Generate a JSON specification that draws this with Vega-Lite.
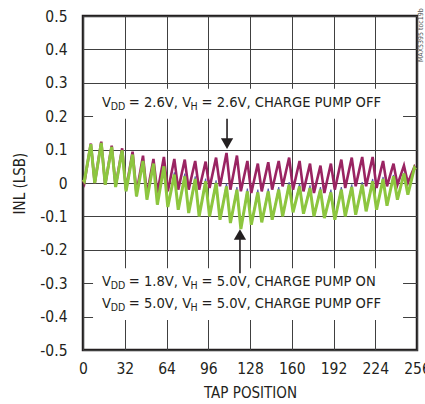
{
  "$schema": "https://vega.github.io/schema/vega-lite/v6.json",
  "autosize": {"type": "none"},
  "width": 334,
  "height": 334,
  "padding": {"left": 83, "top": 16, "right": 8, "bottom": 54},
  "background": "white",
  "config": {
    "font": "DejaVu Sans Condensed, Liberation Sans, sans-serif",
    "view": {"stroke": "#231f20", "strokeWidth": 2.5},
    "axis": {
      "labelFont": "DejaVu Sans Condensed, Liberation Sans, sans-serif",
      "titleFont": "DejaVu Sans Condensed, Liberation Sans, sans-serif",
      "labelFontSize": 15.5,
      "titleFontSize": 15,
      "titleFontWeight": "normal",
      "labelColor": "#231f20",
      "titleColor": "#231f20",
      "ticks": false,
      "domain": false,
      "grid": true,
      "gridColor": "#404040",
      "gridWidth": 1,
      "labelFlush": false,
      "labelOverlap": false,
      "tickCount": 30
    }
  },
  "data": {"values": [
    {"t": 0, "m": 0.01, "g": 0.01, "b": 0.01},
    {"t": 1, "m": 0.0, "g": 0.005, "b": 0.005},
    {"t": 4, "m": 0.071, "g": 0.072, "b": 0.072},
    {"t": 6, "m": 0.118, "g": 0.116, "b": 0.116},
    {"t": 9, "m": 0.0, "g": 0.0, "b": 0.0},
    {"t": 12, "m": 0.074, "g": 0.072, "b": 0.072},
    {"t": 14, "m": 0.124, "g": 0.12, "b": 0.12},
    {"t": 17, "m": -0.005, "g": -0.005, "b": -0.005},
    {"t": 20, "m": 0.065, "g": 0.063, "b": 0.063},
    {"t": 22, "m": 0.112, "g": 0.108, "b": 0.108},
    {"t": 25, "m": -0.01, "g": -0.012, "b": -0.012},
    {"t": 28, "m": 0.058, "g": 0.054, "b": 0.054},
    {"t": 30, "m": 0.104, "g": 0.098, "b": 0.098},
    {"t": 33, "m": -0.02, "g": -0.025, "b": -0.025},
    {"t": 36, "m": 0.048, "g": 0.041, "b": 0.042},
    {"t": 38, "m": 0.094, "g": 0.085, "b": 0.087},
    {"t": 41, "m": -0.03, "g": -0.04, "b": -0.04},
    {"t": 44, "m": 0.037, "g": 0.024, "b": 0.026},
    {"t": 46, "m": 0.082, "g": 0.066, "b": 0.07},
    {"t": 49, "m": -0.035, "g": -0.05, "b": -0.05},
    {"t": 52, "m": 0.029, "g": 0.015, "b": 0.018},
    {"t": 54, "m": 0.072, "g": 0.058, "b": 0.062},
    {"t": 57, "m": -0.03, "g": -0.065, "b": -0.065},
    {"t": 60, "m": 0.035, "g": 0.004, "b": 0.008},
    {"t": 62, "m": 0.078, "g": 0.05, "b": 0.056},
    {"t": 65, "m": -0.025, "g": -0.072, "b": -0.07},
    {"t": 68, "m": 0.033, "g": -0.014, "b": -0.009},
    {"t": 70, "m": 0.072, "g": 0.025, "b": 0.032},
    {"t": 73, "m": -0.02, "g": -0.08, "b": -0.078},
    {"t": 76, "m": 0.034, "g": -0.02, "b": -0.015},
    {"t": 78, "m": 0.07, "g": 0.02, "b": 0.028},
    {"t": 81, "m": -0.02, "g": -0.09, "b": -0.088},
    {"t": 84, "m": 0.032, "g": -0.029, "b": -0.024},
    {"t": 86, "m": 0.066, "g": 0.012, "b": 0.02},
    {"t": 89, "m": -0.02, "g": -0.1, "b": -0.098},
    {"t": 92, "m": 0.03, "g": -0.037, "b": -0.032},
    {"t": 94, "m": 0.064, "g": 0.005, "b": 0.013},
    {"t": 97, "m": -0.015, "g": -0.1, "b": -0.098},
    {"t": 100, "m": 0.04, "g": -0.04, "b": -0.035},
    {"t": 102, "m": 0.076, "g": 0.0, "b": 0.008},
    {"t": 105, "m": -0.01, "g": -0.11, "b": -0.108},
    {"t": 108, "m": 0.05, "g": -0.05, "b": -0.045},
    {"t": 110, "m": 0.09, "g": -0.01, "b": -0.002},
    {"t": 113, "m": -0.02, "g": -0.12, "b": -0.118},
    {"t": 116, "m": 0.041, "g": -0.06, "b": -0.055},
    {"t": 118, "m": 0.082, "g": -0.02, "b": -0.012},
    {"t": 121, "m": -0.025, "g": -0.138, "b": -0.135},
    {"t": 124, "m": 0.03, "g": -0.07, "b": -0.065},
    {"t": 126, "m": 0.066, "g": -0.025, "b": -0.017},
    {"t": 129, "m": -0.03, "g": -0.125, "b": -0.122},
    {"t": 132, "m": 0.023, "g": -0.067, "b": -0.062},
    {"t": 134, "m": 0.058, "g": -0.028, "b": -0.02},
    {"t": 137, "m": -0.025, "g": -0.118, "b": -0.115},
    {"t": 140, "m": 0.027, "g": -0.062, "b": -0.057},
    {"t": 142, "m": 0.062, "g": -0.025, "b": -0.017},
    {"t": 145, "m": -0.02, "g": -0.11, "b": -0.107},
    {"t": 148, "m": 0.032, "g": -0.056, "b": -0.051},
    {"t": 150, "m": 0.066, "g": -0.02, "b": -0.012},
    {"t": 153, "m": -0.01, "g": -0.1, "b": -0.097},
    {"t": 156, "m": 0.042, "g": -0.043, "b": -0.038},
    {"t": 158, "m": 0.076, "g": -0.005, "b": 0.003},
    {"t": 161, "m": -0.02, "g": -0.088, "b": -0.085},
    {"t": 164, "m": 0.032, "g": -0.041, "b": -0.036},
    {"t": 166, "m": 0.066, "g": -0.01, "b": -0.002},
    {"t": 169, "m": -0.025, "g": -0.092, "b": -0.089},
    {"t": 172, "m": 0.025, "g": -0.046, "b": -0.041},
    {"t": 174, "m": 0.058, "g": -0.015, "b": -0.007},
    {"t": 177, "m": -0.03, "g": -0.1, "b": -0.097},
    {"t": 180, "m": 0.019, "g": -0.052, "b": -0.047},
    {"t": 182, "m": 0.052, "g": -0.02, "b": -0.012},
    {"t": 185, "m": -0.03, "g": -0.105, "b": -0.102},
    {"t": 188, "m": 0.023, "g": -0.059, "b": -0.054},
    {"t": 190, "m": 0.058, "g": -0.028, "b": -0.02},
    {"t": 193, "m": -0.02, "g": -0.11, "b": -0.107},
    {"t": 196, "m": 0.034, "g": -0.056, "b": -0.051},
    {"t": 198, "m": 0.07, "g": -0.02, "b": -0.012},
    {"t": 201, "m": -0.015, "g": -0.1, "b": -0.097},
    {"t": 204, "m": 0.04, "g": -0.047, "b": -0.042},
    {"t": 206, "m": 0.076, "g": -0.012, "b": -0.004},
    {"t": 209, "m": -0.01, "g": -0.095, "b": -0.092},
    {"t": 212, "m": 0.043, "g": -0.041, "b": -0.036},
    {"t": 214, "m": 0.078, "g": -0.005, "b": 0.003},
    {"t": 217, "m": -0.01, "g": -0.085, "b": -0.082},
    {"t": 220, "m": 0.043, "g": -0.031, "b": -0.026},
    {"t": 222, "m": 0.078, "g": 0.005, "b": 0.012},
    {"t": 225, "m": -0.015, "g": -0.08, "b": -0.078},
    {"t": 228, "m": 0.034, "g": -0.025, "b": -0.021},
    {"t": 230, "m": 0.066, "g": 0.012, "b": 0.018},
    {"t": 233, "m": -0.01, "g": -0.068, "b": -0.066},
    {"t": 236, "m": 0.031, "g": -0.015, "b": -0.012},
    {"t": 238, "m": 0.058, "g": 0.02, "b": 0.024},
    {"t": 241, "m": -0.005, "g": -0.05, "b": -0.049},
    {"t": 244, "m": 0.029, "g": -0.003, "b": -0.001},
    {"t": 246, "m": 0.052, "g": 0.028, "b": 0.03},
    {"t": 249, "m": 0.0, "g": -0.035, "b": -0.034},
    {"t": 252, "m": 0.029, "g": 0.013, "b": 0.014},
    {"t": 254, "m": 0.048, "g": 0.045, "b": 0.046},
    {"t": 255, "m": 0.04, "g": 0.04, "b": 0.04}
  ]},
  "layer": [
    {
      "mark": {"type": "line", "color": "#5b5fa8", "strokeWidth": 1.2},
      "encoding": {
        "x": {"field": "t", "type": "quantitative",
          "scale": {"domain": [0, 256], "nice": false, "zero": false},
          "axis": {"values": [0, 32, 64, 96, 128, 160, 192, 224, 256], "tickCount": 30, "title": "TAP POSITION", "labelPadding": 11, "titlePadding": 9}},
        "y": {"field": "b", "type": "quantitative",
          "scale": {"domain": [-0.5, 0.5], "nice": false, "zero": false},
          "axis": {"values": [-0.5, -0.4, -0.3, -0.2, -0.1, 0, 0.1, 0.2, 0.3, 0.4, 0.5], "tickCount": 30, "format": ".1~f", "labelExpr": "replace(datum.label, '−', '-')", "title": "INL (LSB)", "labelPadding": 16, "titlePadding": 12}}
      }
    },
    {
      "mark": {"type": "line", "color": "#9a2462", "strokeWidth": 2.6},
      "encoding": {
        "x": {"field": "t", "type": "quantitative"},
        "y": {"field": "m", "type": "quantitative"}
      }
    },
    {
      "mark": {"type": "line", "color": "#8dc63f", "strokeWidth": 3},
      "encoding": {
        "x": {"field": "t", "type": "quantitative"},
        "y": {"field": "g", "type": "quantitative"}
      }
    },
    {
      "data": {"values": [
        {"x": 7.7, "x2": 245.3, "y": 0.192, "y2": 0.282},
        {"x": 7.7, "x2": 245.3, "y": -0.41, "y2": -0.255}
      ]},
      "mark": {"type": "rect", "color": "white"},
      "encoding": {
        "x": {"field": "x", "type": "quantitative"},
        "x2": {"field": "x2"},
        "y": {"field": "y", "type": "quantitative"},
        "y2": {"field": "y2"}
      }
    },
    {
      "data": {"values": [
        {"x": 110.4, "y": 0.192, "y2": 0.125},
        {"x": 120.3, "y": -0.15, "y2": -0.27}
      ]},
      "mark": {"type": "rule", "color": "#231f20", "strokeWidth": 1.6},
      "encoding": {
        "x": {"field": "x", "type": "quantitative"},
        "y": {"field": "y", "type": "quantitative"},
        "y2": {"field": "y2"}
      }
    },
    {
      "data": {"values": [
        {"x": 110.4, "y": 0.118, "dir": "down"},
        {"x": 120.3, "y": -0.154, "dir": "up"}
      ]},
      "mark": {"type": "point", "filled": true, "color": "#231f20", "size": 150, "opacity": 1},
      "encoding": {
        "x": {"field": "x", "type": "quantitative"},
        "y": {"field": "y", "type": "quantitative"},
        "shape": {"field": "dir", "type": "nominal", "scale": {"domain": ["down", "up"], "range": ["triangle-down", "triangle-up"]}, "legend": null}
      }
    },
    {
      "data": {"values": [
        {"x": 14.56, "y": 0.241, "txt": "V"},
        {"x": 35.1, "y": 0.241, "txt": "= 2.6V, V"},
        {"x": 90.8, "y": 0.241, "txt": "= 2.6V, CHARGE PUMP OFF"},
        {"x": 14.56, "y": -0.296, "txt": "V"},
        {"x": 35.1, "y": -0.296, "txt": "= 1.8V, V"},
        {"x": 90.8, "y": -0.296, "txt": "= 5.0V, CHARGE PUMP ON"},
        {"x": 14.56, "y": -0.361, "txt": "V"},
        {"x": 35.1, "y": -0.361, "txt": "= 5.0V, V"},
        {"x": 90.8, "y": -0.361, "txt": "= 5.0V, CHARGE PUMP OFF"}
      ]},
      "mark": {"type": "text", "align": "left", "baseline": "middle", "fontSize": 14.6, "color": "#231f20"},
      "encoding": {
        "x": {"field": "x", "type": "quantitative"},
        "y": {"field": "y", "type": "quantitative"},
        "text": {"field": "txt"}
      }
    },
    {
      "data": {"values": [
        {"x": 21.23, "y": 0.241, "txt": "DD"},
        {"x": 82.4, "y": 0.241, "txt": "H"},
        {"x": 21.23, "y": -0.296, "txt": "DD"},
        {"x": 82.4, "y": -0.296, "txt": "H"},
        {"x": 21.23, "y": -0.361, "txt": "DD"},
        {"x": 82.4, "y": -0.361, "txt": "H"}
      ]},
      "mark": {"type": "text", "align": "left", "baseline": "middle", "fontSize": 10.5, "dy": 4, "color": "#231f20"},
      "encoding": {
        "x": {"field": "x", "type": "quantitative"},
        "y": {"field": "y", "type": "quantitative"},
        "text": {"field": "txt"}
      }
    },
    {
      "data": {"values": [{"x": 256, "y": 0.362, "txt": "MAX5395 toc19b"}]},
      "mark": {"type": "text", "align": "left", "baseline": "middle", "angle": 270, "fontSize": 7, "dy": 4, "color": "#555555"},
      "encoding": {
        "x": {"field": "x", "type": "quantitative"},
        "y": {"field": "y", "type": "quantitative"},
        "text": {"field": "txt"}
      }
    }
  ]
}
